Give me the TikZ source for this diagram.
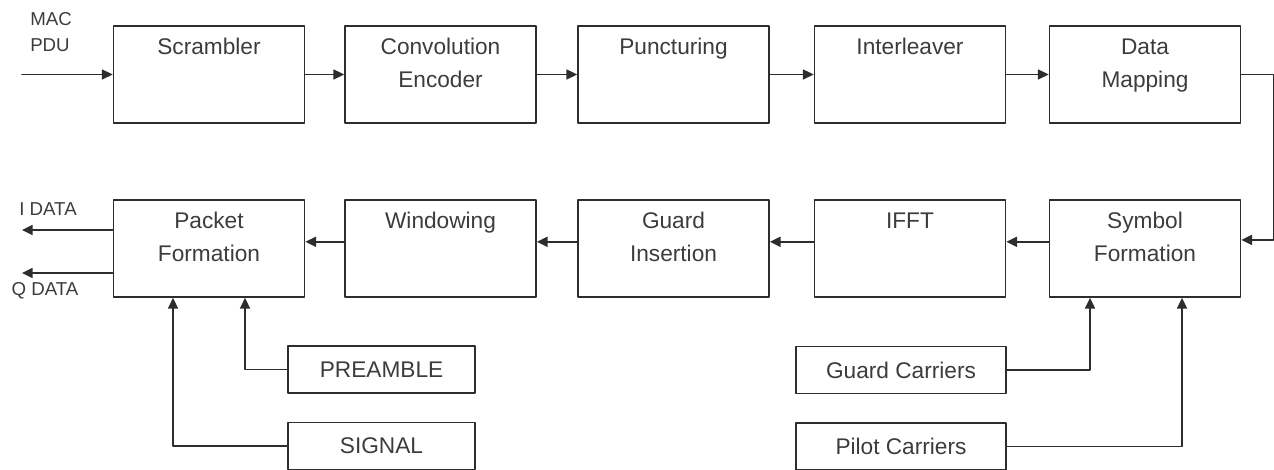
\documentclass[tikz,border=0pt]{standalone}
\usepackage{fontspec}
\setmainfont{Liberation Sans}
\usetikzlibrary{arrows.meta}
\definecolor{linegray}{RGB}{45,45,45}
\definecolor{txtgray}{RGB}{60,60,60}
% text of a block sits in its upper part
\newcommand{\blkt}[1]{\parbox[c][72.75pt][t]{140pt}{\centering\rule{0pt}{21.5pt}#1}}
\begin{document}
\begin{tikzpicture}[>={Triangle[length=8pt,width=7.5pt]},line cap=round,line join=round,x=0.75pt,y=-0.75pt,
		linegray,line width=1.3pt,
		blk/.style={draw=linegray,line width=1.3pt,rectangle,inner sep=0pt,minimum width=143.25pt,minimum height=72.75pt,text=txtgray,font=\fontsize{17}{24.75}\selectfont},
		sbox/.style={draw=linegray,line width=1.3pt,rectangle,inner sep=0pt,minimum width=140.25pt,minimum height=35.25pt,text=txtgray,font=\fontsize{17}{20}\selectfont},
		lbl/.style={text=txtgray,inner sep=0pt,font=\fontsize{14}{20}\selectfont}]
	\useasboundingbox (0,0) rectangle (1274,470);
	% upper row
	\node[blk] (scr) at (209,74.5) {\blkt{Scrambler}};
	\node[blk] (enc) at (440.5,74.5) {\blkt{Convolution\\Encoder}};
	\node[blk] (pun) at (673.5,74.5) {\blkt{Puncturing}};
	\node[blk] (itl) at (910,74.5) {\blkt{Interleaver}};
	\node[blk] (map) at (1145,74.5) {\blkt{Data\\Mapping}};
	% lower row
	\node[blk] (pkt) at (209,248.5) {\blkt{Packet\\Formation}};
	\node[blk] (win) at (440.5,248.5) {\blkt{Windowing}};
	\node[blk] (gin) at (673.5,248.5) {\blkt{Guard\\Insertion}};
	\node[blk] (ifft) at (910,248.5) {\blkt{IFFT}};
	\node[blk] (sym) at (1145,248.5) {\blkt{Symbol\\Formation}};
	% side inputs
	\node[sbox] (pre) at (381.5,369.5) {PREAMBLE};
	\node[sbox] (sig) at (381.5,446) {SIGNAL};
	\node[sbox,minimum width=157.5pt] (gcar) at (901,370) {Guard Carriers};
	\node[sbox,minimum width=157.5pt] (pcar) at (901,446.5) {Pilot Carriers};
	% labels
	\node[lbl,align=left] (mac) at (51,32) {MAC\\PDU};
	\node[lbl] (ilbl) at (48,209) {I DATA};
	\node[lbl] (qlbl) at (45,291) {Q DATA};
	\coordinate (pdu) at (22,74.5);
	\coordinate (idat) at (22,230);
	\coordinate (qdat) at (22,273);
	% flow
	\draw[->] (pdu) -- (scr.west);
	\draw[->] (scr.east) -- (enc.west);
	\draw[->] (enc.east) -- (pun.west);
	\draw[->] (pun.east) -- (itl.west);
	\draw[->] (itl.east) -- (map.west);
	\draw[->] (map.east) -- ++(32,0) |- ([yshift=6.4pt]sym.east);
	\draw[->] ([yshift=5pt]sym.west) -- ([yshift=5pt]ifft.east);
	\draw[->] ([yshift=5pt]ifft.west) -- ([yshift=5pt]gin.east);
	\draw[->] ([yshift=5pt]gin.west) -- ([yshift=5pt]win.east);
	\draw[->] ([yshift=5pt]win.west) -- ([yshift=5pt]pkt.east);
	\draw[->] ([yshift=13.9pt]pkt.west) -- (idat);
	\draw[->] ([yshift=-18.4pt]pkt.west) -- (qdat);
	\draw[->] (pre.west) -| ([xshift=27pt]pkt.south);
	\draw[->] (sig.west) -| ([xshift=-27pt]pkt.south);
	\draw[->] (gcar.east) -| ([xshift=-41.25pt]sym.south);
	\draw[->] (pcar.east) -| ([xshift=27.75pt]sym.south);
\end{tikzpicture}
\end{document}
